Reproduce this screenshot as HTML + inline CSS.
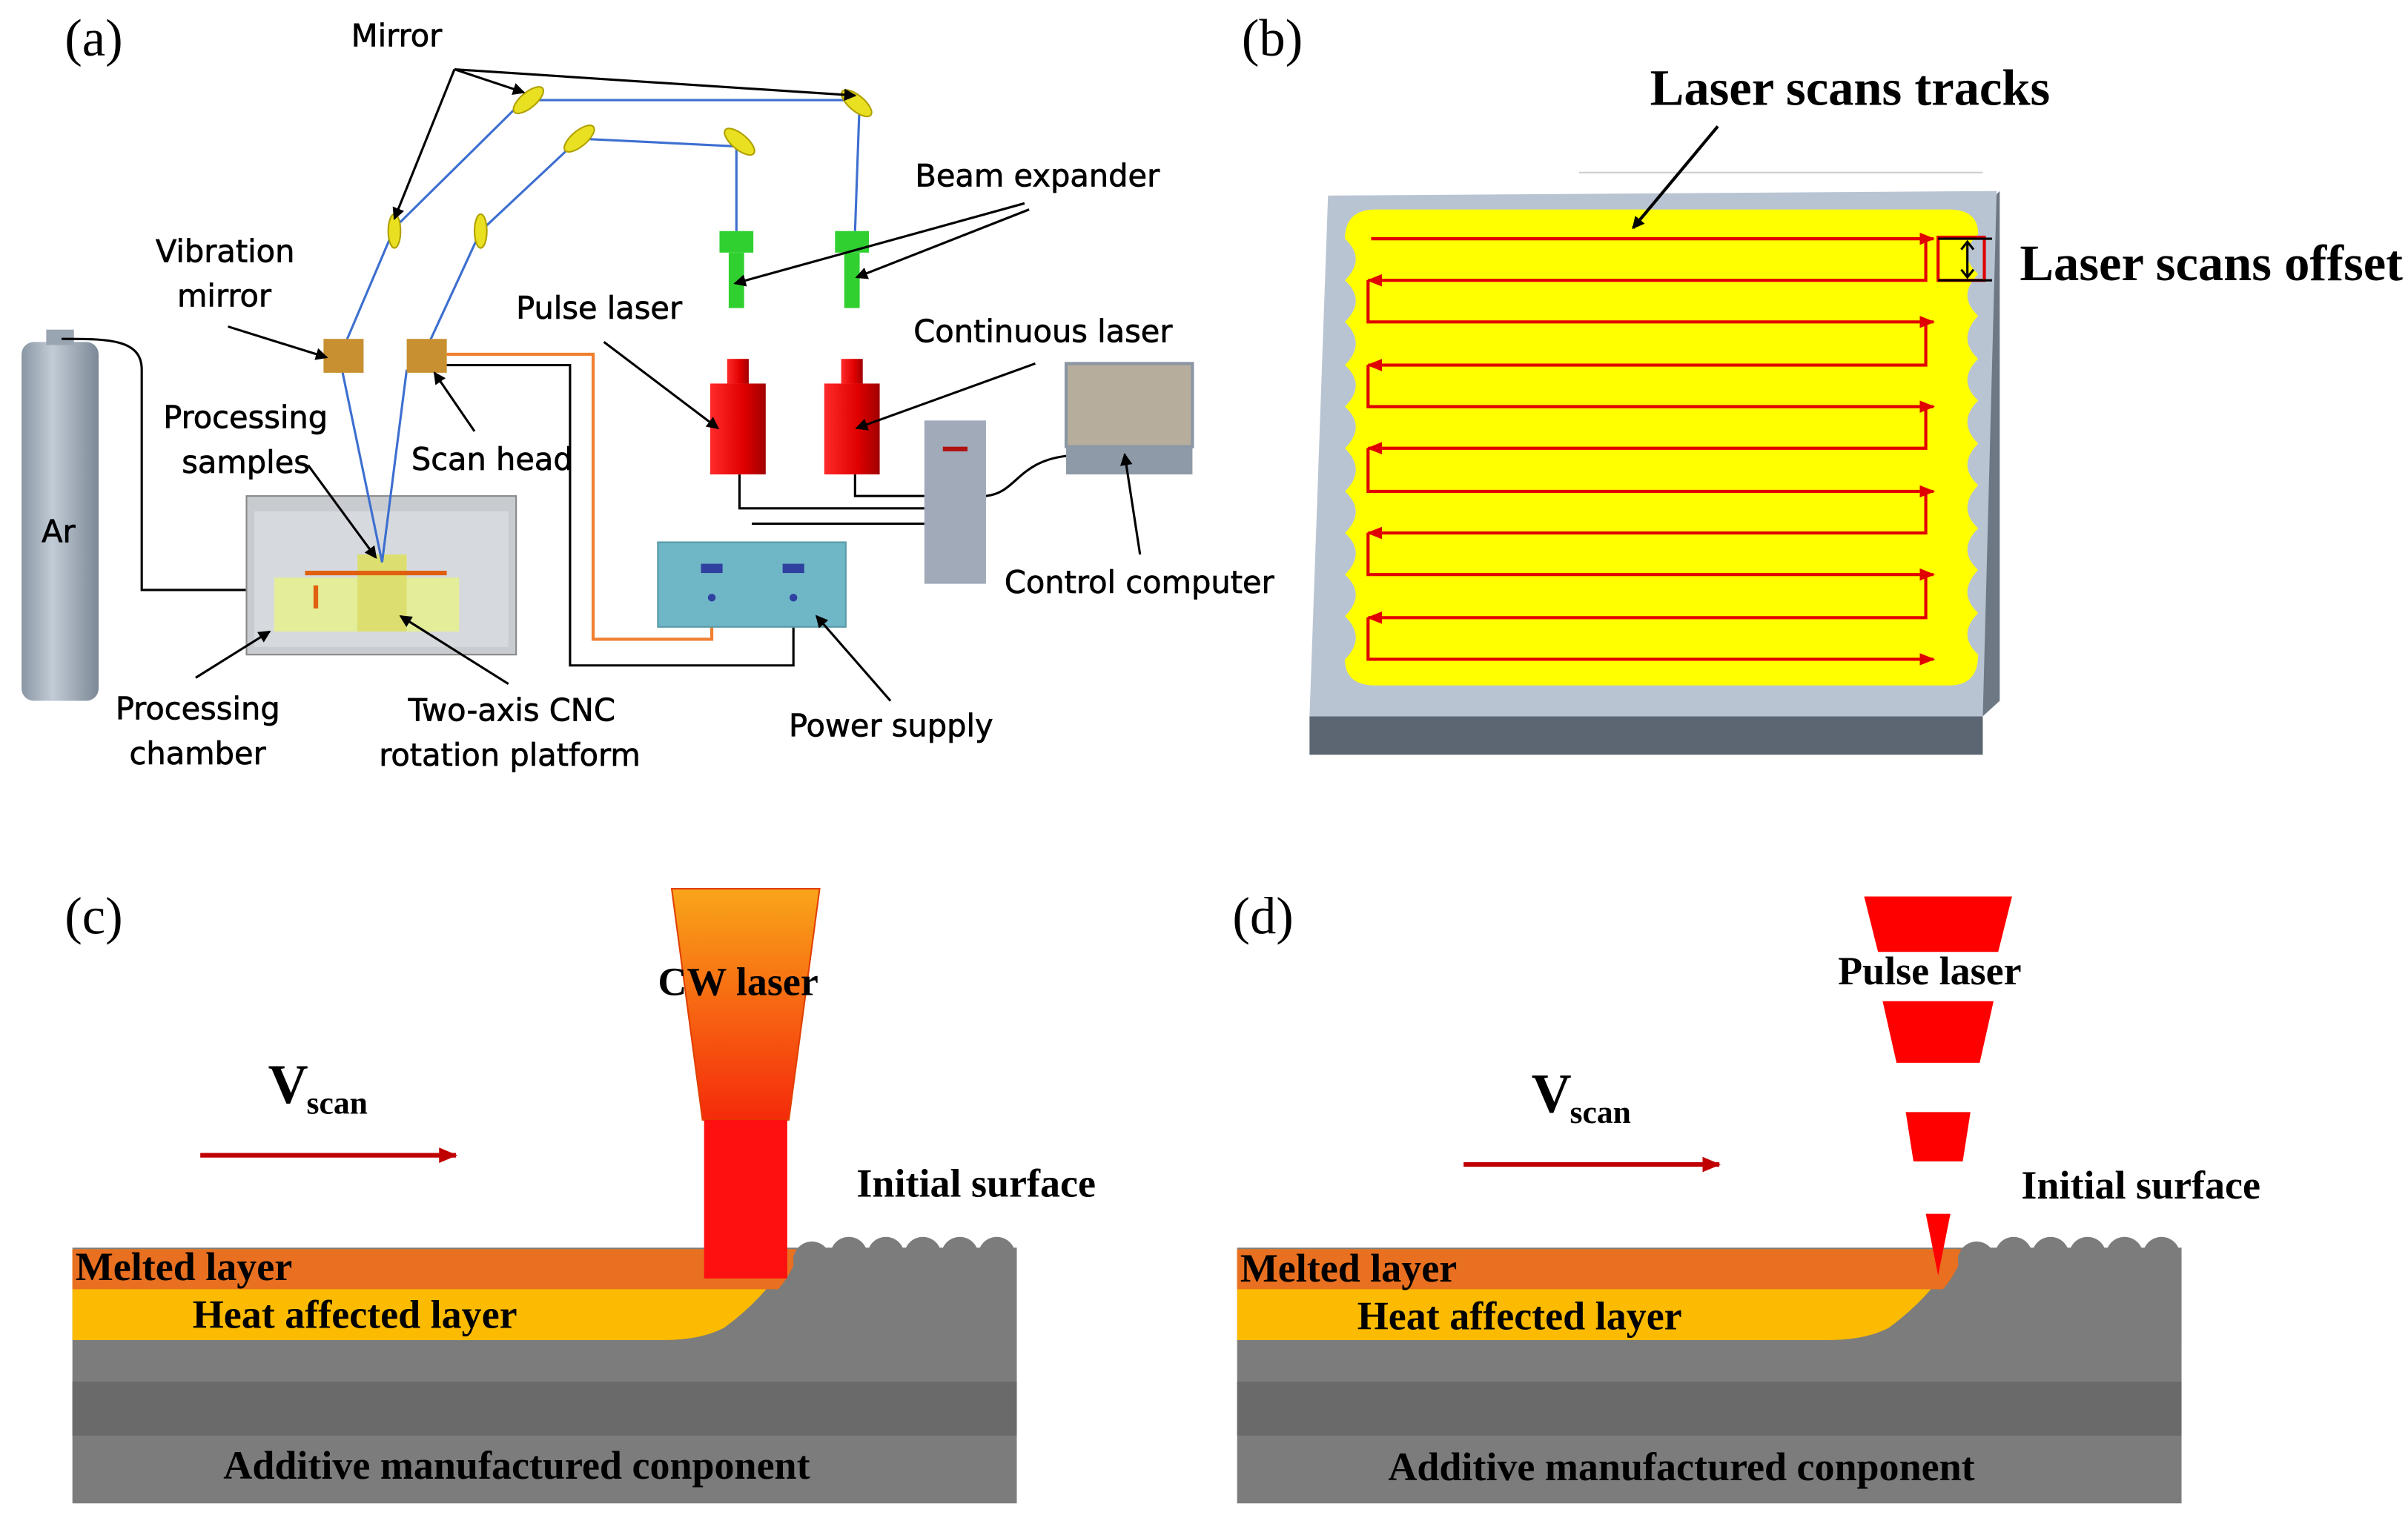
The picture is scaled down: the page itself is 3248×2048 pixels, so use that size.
<!DOCTYPE html>
<html><head><meta charset="utf-8"><style>
html,body{margin:0;padding:0;background:#fff}
svg{display:block}
.s{font-family:"DejaVu Sans","Liberation Sans",sans-serif;font-size:20px;fill:#000;stroke:#000;stroke-width:0.35px}
.r{font-family:"Liberation Serif",serif;font-weight:bold;fill:#000}
.lab{font-family:"Liberation Serif",serif;font-size:34px;fill:#000}
</style></head><body>
<svg width="3248" height="2048" viewBox="0 0 1563 985.5" preserveAspectRatio="none" xmlns="http://www.w3.org/2000/svg">
<defs>
<linearGradient id="cyl" x1="0" x2="1"><stop offset="0" stop-color="#8a96a4"/><stop offset=".4" stop-color="#c2ccd6"/><stop offset="1" stop-color="#7c8896"/></linearGradient>
<linearGradient id="cw" x1="0" y1="0" x2="0" y2="1"><stop offset="0" stop-color="#f9a51a"/><stop offset="1" stop-color="#f52a0a"/></linearGradient>
<linearGradient id="rl" x1="0" x2="1"><stop offset="0" stop-color="#ff2a2a"/><stop offset=".6" stop-color="#e00000"/><stop offset="1" stop-color="#a00000"/></linearGradient>
<marker id="ar" markerWidth="8" markerHeight="8" refX="7" refY="4" orient="auto" markerUnits="userSpaceOnUse"><path d="M0,0 L8,4 L0,8 z" fill="#000"/></marker>
<marker id="ar2" markerWidth="12" markerHeight="10" refX="11" refY="5" orient="auto" markerUnits="userSpaceOnUse"><path d="M0,0 L12,5 L0,10 z" fill="#c00000"/></marker>
<marker id="ar3" markerWidth="10" markerHeight="10" refX="9" refY="5" orient="auto" markerUnits="userSpaceOnUse"><path d="M0,1 L10,5 L0,9 z" fill="#e00000"/></marker>
</defs>
<!-- (a) -->
<text class="lab" x="42" y="36">(a)</text>
<rect x="14" y="222" width="50" height="233" rx="8" fill="url(#cyl)"/>
<rect x="30" y="214" width="18" height="10" fill="#9aa5b2"/>
<text class="s" x="27" y="352">Ar</text>
<path d="M40,220 C70,220 92,220 92,240 L92,383 L170,383" stroke="#000" fill="none" stroke-width="1.5"/>
<rect x="160" y="322" width="175" height="103" fill="#c8ccd0" stroke="#888"/>
<rect x="165" y="332" width="165" height="88" fill="#d6dade"/>
<rect x="178" y="375" width="120" height="35" fill="#e6ee90" opacity=".9"/>
<rect x="232" y="360" width="32" height="50" fill="#dcdf70"/>
<path d="M205,395 L205,380 M198,372 L290,372" stroke="#e06010" stroke-width="3"/>
<g stroke="#3d6fd0" stroke-width="1.5" fill="none">
<path d="M222,228 L256,148 L340,65 L558,65 L555,150"/>
<path d="M276,228 L312,150 L376,90 L478,95 L478,150"/>
<path d="M222,240 L248,365 L264,240"/>
</g>
<g fill="#e8e020" stroke="#b0a000">
<ellipse cx="256" cy="150" rx="4" ry="11"/><ellipse cx="312" cy="150" rx="4" ry="11"/>
<ellipse cx="343" cy="65" rx="12" ry="5" transform="rotate(-40 343 65)"/><ellipse cx="376" cy="90" rx="12" ry="5" transform="rotate(-40 376 90)"/>
<ellipse cx="480" cy="92" rx="12" ry="5" transform="rotate(40 480 92)"/><ellipse cx="556" cy="67" rx="12" ry="5" transform="rotate(40 556 67)"/>
</g>
<g fill="#c89030"><rect x="210" y="220" width="26" height="22"/><rect x="264" y="220" width="26" height="22"/></g>
<g fill="#30d030"><rect x="467" y="150" width="22" height="14"/><rect x="473" y="164" width="10" height="36"/><rect x="542" y="150" width="22" height="14"/><rect x="548" y="164" width="10" height="36"/></g>
<g fill="url(#rl)"><rect x="472" y="233" width="14" height="16"/><rect x="461" y="249" width="36" height="59"/><rect x="546" y="233" width="14" height="16"/><rect x="535" y="249" width="36" height="59"/></g>
<path d="M290,237 L370,237 L370,432 L515,432 L515,390" stroke="#000" fill="none" stroke-width="1.5"/>
<path d="M290,230 L385,230 L385,415 L462,415 L462,390" stroke="#f08030" fill="none" stroke-width="2"/>
<path d="M480,308 L480,330 L600,330 M555,308 L555,322 L600,322 M488,340 L600,340 M640,322 C660,320 660,300 692,296" stroke="#000" fill="none" stroke-width="1.5"/>
<rect x="427" y="352" width="122" height="55" fill="#6fb6c6" stroke="#5a9aa8"/>
<rect x="455" y="366" width="14" height="6" fill="#3040a0"/><rect x="508" y="366" width="14" height="6" fill="#3040a0"/>
<circle cx="462" cy="388" r="2.5" fill="#3040a0"/><circle cx="515" cy="388" r="2.5" fill="#3040a0"/>
<rect x="600" y="273" width="40" height="106" fill="#a0aab8"/>
<rect x="612" y="290" width="16" height="3" fill="#b01010"/>
<rect x="692" y="236" width="82" height="54" fill="#b6ad9c" stroke="#8a96a4" stroke-width="2"/>
<rect x="692" y="290" width="82" height="18" fill="#8e9aa8"/>
<g stroke="#000" stroke-width="1.5" fill="none" marker-end="url(#ar)">
<path d="M295,45 L256,142"/><path d="M295,45 L340,60"/><path d="M295,45 L555,62"/>
<path d="M665,132 L477,184"/><path d="M668,136 L556,180"/>
<path d="M148,212 L212,232"/>
<path d="M308,280 L282,242"/>
<path d="M200,302 L244,362"/>
<path d="M392,222 L466,278"/><path d="M672,236 L556,278"/>
<path d="M740,360 L730,295"/>
<path d="M127,440 L175,410"/>
<path d="M330,444 L260,400"/>
<path d="M578,455 L530,400"/>
</g>
<text class="s" x="228" y="30">Mirror</text>
<text class="s" x="594" y="121">Beam expander</text>
<text class="s" x="101" y="170">Vibration</text><text class="s" x="115" y="199">mirror</text>
<text class="s" x="335" y="207">Pulse laser</text>
<text class="s" x="593" y="222">Continuous laser</text>
<text class="s" x="106" y="278">Processing</text><text class="s" x="118" y="307">samples</text>
<text class="s" x="267" y="305">Scan head</text>
<text class="s" x="652" y="385">Control computer</text>
<text class="s" x="75" y="467">Processing</text><text class="s" x="84" y="496">chamber</text>
<text class="s" x="265" y="468">Two-axis CNC</text><text class="s" x="246" y="497">rotation platform</text>
<text class="s" x="512" y="478">Power supply</text>
<!-- (b) -->
<text class="lab" x="806" y="36">(b)</text>
<line x1="1025" y1="112" x2="1287" y2="112" stroke="#ccc"/>
<path d="M850,465 L1287,465 L1287,490 L850,490 z" fill="#5c6672"/>
<path d="M1287,465 L1298,455 L1298,124 L1287,135 z" fill="#6e7884"/>
<path d="M862,127 L1296,124 L1287,465 L850,465 z" fill="#b9c4d3"/>
<path d="M893,136 L1265,136 Q1284,136 1284,152 Q1270,165 1284,178 Q1270,192 1284,205 Q1270,220 1284,233 Q1270,247 1284,260 Q1270,274 1284,288 Q1270,302 1284,315 Q1270,330 1284,343 Q1270,357 1284,370 Q1270,385 1284,398 Q1270,412 1284,425 Q1284,445 1265,445 L893,445 Q873,445 873,428 Q887,414 873,400 Q887,386 873,373 Q887,359 873,346 Q887,332 873,319 Q887,305 873,291 Q887,277 873,264 Q887,250 873,237 Q887,223 873,209 Q887,195 873,182 Q887,168 873,155 Q873,136 893,136 z" fill="#ffff00"/>
<g stroke="#e00000" stroke-width="2" fill="none">
<path d="M890,155 L1255,155" marker-end="url(#ar3)"/>
<path d="M1250,155 L1250,182 L888,182" marker-end="url(#ar3)"/>
<path d="M888,182 L888,209 L1255,209" marker-end="url(#ar3)"/>
<path d="M1250,209 L1250,237 L888,237" marker-end="url(#ar3)"/>
<path d="M888,237 L888,264 L1255,264" marker-end="url(#ar3)"/>
<path d="M1250,264 L1250,291 L888,291" marker-end="url(#ar3)"/>
<path d="M888,291 L888,319 L1255,319" marker-end="url(#ar3)"/>
<path d="M1250,319 L1250,346 L888,346" marker-end="url(#ar3)"/>
<path d="M888,346 L888,373 L1255,373" marker-end="url(#ar3)"/>
<path d="M1250,373 L1250,401 L888,401" marker-end="url(#ar3)"/>
<path d="M888,401 L888,428 L1255,428" marker-end="url(#ar3)"/>
</g>
<rect x="1258" y="154" width="30" height="28" fill="none" stroke="#e00000" stroke-width="2"/>
<path d="M1258,155 L1293,155 M1258,182 L1293,182 M1277,158 L1277,179" stroke="#000" stroke-width="1.5"/>
<path d="M1273,162 L1277,157 L1281,162 M1273,175 L1277,180 L1281,175" stroke="#000" fill="none" stroke-width="1.5"/>
<path d="M1115,82 L1060,148" stroke="#000" stroke-width="2" marker-end="url(#ar)"/>
<text class="r" x="1071" y="68" font-size="33">Laser scans tracks</text>
<text class="r" x="1311" y="182" font-size="33">Laser scans offset</text>
<!-- (c) -->
<text class="lab" x="42" y="606">(c)</text>
<rect x="47" y="810" width="613" height="166" fill="#7c7c7c"/>
<rect x="47" y="897" width="613" height="35" fill="#6a6a6a"/>
<path d="M47,811 L515,811 Q500,840 470,862 Q455,870 430,870 L47,870 z" fill="#fcbb00"/>
<path d="M47,811 L520,811 Q512,830 505,837 L47,837 z" fill="#e87020"/>
<g fill="#7c7c7c"><circle cx="527" cy="818" r="12"/><circle cx="551" cy="815" r="12"/><circle cx="575" cy="815" r="12"/><circle cx="599" cy="815" r="12"/><circle cx="623" cy="815" r="12"/><circle cx="647" cy="815" r="12"/></g>
<rect x="515" y="815" width="145" height="60" fill="#7c7c7c"/>
<path d="M436,577 L532,577 L512,727 L456,727 z" fill="url(#cw)" stroke="#e04000"/>
<rect x="457" y="727" width="54" height="103" fill="#ff1010"/>
<path d="M130,750 L296,750" stroke="#c00000" stroke-width="3" marker-end="url(#ar2)"/>
<text class="r" x="174" y="716" font-size="36">V</text><text class="r" x="199" y="723" font-size="21">scan</text>
<text class="r" x="427" y="646" font-size="26">CW laser</text>
<text class="r" x="556" y="777" font-size="26">Initial surface</text>
<text class="r" x="49" y="831" font-size="26">Melted layer</text>
<text class="r" x="125" y="862" font-size="26">Heat affected layer</text>
<text class="r" x="145" y="960" font-size="26">Additive manufactured conponent</text>
<!-- (d) -->
<text class="lab" x="800" y="606">(d)</text>
<rect x="803" y="810" width="613" height="166" fill="#7c7c7c"/>
<rect x="803" y="897" width="613" height="35" fill="#6a6a6a"/>
<path d="M803,811 L1271,811 Q1256,840 1226,862 Q1211,870 1186,870 L803,870 z" fill="#fcbb00"/>
<path d="M803,811 L1276,811 Q1268,830 1261,837 L803,837 z" fill="#e87020"/>
<g fill="#7c7c7c"><circle cx="1283" cy="818" r="12"/><circle cx="1307" cy="815" r="12"/><circle cx="1331" cy="815" r="12"/><circle cx="1355" cy="815" r="12"/><circle cx="1379" cy="815" r="12"/><circle cx="1403" cy="815" r="12"/></g>
<rect x="1271" y="815" width="145" height="60" fill="#7c7c7c"/>
<g fill="#ff0000">
<path d="M1210,582 L1306,582 L1297,618 L1219,618 z"/>
<path d="M1222,650 L1294,650 L1285,690 L1231,690 z"/>
<path d="M1237,722 L1279,722 L1274,754 L1242,754 z"/>
<path d="M1250,788 L1266,788 L1258,828 z"/>
</g>
<path d="M950,756 L1116,756" stroke="#c00000" stroke-width="3" marker-end="url(#ar2)"/>
<text class="r" x="994" y="722" font-size="36">V</text><text class="r" x="1019" y="729" font-size="21">scan</text>
<text class="r" x="1193" y="639" font-size="26">Pulse laser</text>
<text class="r" x="1312" y="778" font-size="26">Initial surface</text>
<text class="r" x="805" y="832" font-size="26">Melted layer</text>
<text class="r" x="881" y="863" font-size="26">Heat affected layer</text>
<text class="r" x="901" y="961" font-size="26">Additive manufactured conponent</text>
</svg>
</body></html>
